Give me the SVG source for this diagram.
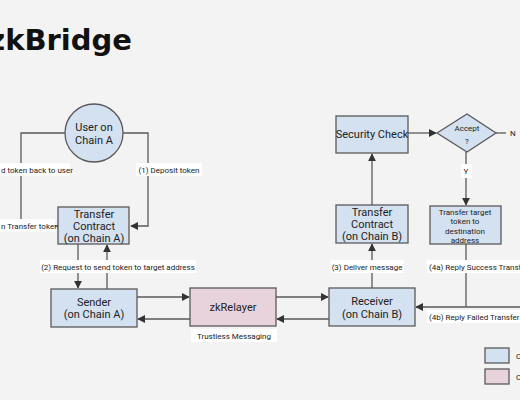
<svg xmlns="http://www.w3.org/2000/svg" width="520" height="400" viewBox="0 0 520 400">
<style>
.bl{fill:#d4e1f1;stroke:#595959;stroke-width:1.3}
.pk{fill:#e8d3dd;stroke:#595959;stroke-width:1.3}
.t{font-family:Roboto,"Liberation Sans",sans-serif;font-size:11px;fill:#222;text-anchor:middle}
.s{font-family:Roboto,"Liberation Sans",sans-serif;font-size:8px;fill:#222;text-anchor:middle}
.st{font-family:Roboto,"Liberation Sans",sans-serif;font-size:8px;fill:#222;text-anchor:start}
.lb{fill:#ffffff}
.ln{fill:none;stroke:#595959;stroke-width:1.3}
</style>
<defs>
<marker id="ah" viewBox="0 0 10 10" refX="9" refY="5" markerWidth="8" markerHeight="8" markerUnits="userSpaceOnUse" orient="auto">
<path d="M0,0 L10,5 L0,10 z" fill="#333"/>
</marker>
</defs>
<rect x="0" y="0" width="520" height="400" fill="#f3f3f3"/>
<text x="132" y="50" text-anchor="end" font-family="'DejaVu Sans',sans-serif" font-weight="bold" font-size="29" fill="#111">zkBridge</text>

<g id="connectors">
<path class="ln" d="M59,226 H21 V133 H65"/>
<path class="ln" d="M123,133 H148 V226 H131" marker-end="url(#ah)"/>
<path class="ln" d="M78,244 V288" marker-end="url(#ah)"/>
<path class="ln" d="M107,289 V245" marker-end="url(#ah)"/>
<path class="ln" d="M137,297 H189" marker-end="url(#ah)"/>
<path class="ln" d="M190,319 H138" marker-end="url(#ah)"/>
<path class="ln" d="M276,297 H328" marker-end="url(#ah)"/>
<path class="ln" d="M329,319 H277" marker-end="url(#ah)"/>
<path class="ln" d="M372,288 V244" marker-end="url(#ah)"/>
<path class="ln" d="M372,205 V154" marker-end="url(#ah)"/>
<path class="ln" d="M408,133 H436" marker-end="url(#ah)"/>
<path class="ln" d="M496,133 H506"/>
<path class="ln" d="M466,152 V205" marker-end="url(#ah)"/>
<path class="ln" d="M466,244 V307"/>
<path class="ln" d="M520,307 H416" marker-end="url(#ah)"/>
<rect class="lb" x="0" y="163" width="70" height="13"/>
<text class="st" x="1" y="172.5">d token back to user</text>
<rect class="lb" x="0" y="219" width="55" height="13"/>
<text class="st" x="1" y="228.5">n Transfer token</text>
<rect class="lb" x="136" y="163" width="66" height="13"/>
<text class="s" x="169" y="172.5">(1) Deposit token</text>
<rect class="lb" x="40" y="260" width="156" height="13"/>
<text class="s" x="118" y="269.5">(2) Request to send token to target address</text>
<rect class="lb" x="191" y="329" width="86" height="13"/>
<text class="s" x="234" y="338.5">Trustless Messaging</text>
<rect class="lb" x="331" y="260" width="73" height="13"/>
<text class="s" x="367" y="269.5">(3) Deliver message</text>
<rect class="lb" x="461" y="164" width="11" height="14"/>
<text class="s" x="466" y="174">Y</text>
<text class="st" x="510" y="136">N</text>
<rect class="lb" x="427" y="260" width="93" height="13"/>
<text class="st" x="429" y="269.5">(4a) Reply Success Transf</text>
<rect class="lb" x="427" y="310" width="93" height="13"/>
<text class="st" x="429" y="319.5">(4b) Reply Failed Transfer</text>
</g>

<g id="user">
<circle class="bl" cx="94" cy="133" r="29"/>
<text class="t" x="94" y="131">User on</text>
<text class="t" x="94" y="144">Chain A</text>
</g>
<g id="contractA">
<rect class="bl" x="58" y="207" width="71" height="37"/>
<text class="t" x="94" y="218">Transfer</text>
<text class="t" x="94" y="230">Contract</text>
<text class="t" x="94" y="242">(on Chain A)</text>
</g>
<g id="sender">
<rect class="bl" x="51" y="289" width="86" height="38"/>
<text class="t" x="94" y="306">Sender</text>
<text class="t" x="94" y="318">(on Chain A)</text>
</g>
<g id="zkrelayer">
<rect class="pk" x="190" y="288" width="86" height="38"/>
<text class="t" x="233" y="311">zkRelayer</text>
</g>
<g id="receiver">
<rect class="bl" x="329" y="288" width="86" height="38"/>
<text class="t" x="372" y="305">Receiver</text>
<text class="t" x="372" y="318">(on Chain B)</text>
</g>
<g id="contractB">
<rect class="bl" x="336" y="205" width="72" height="38"/>
<text class="t" x="372" y="216">Transfer</text>
<text class="t" x="372" y="228">Contract</text>
<text class="t" x="372" y="240">(on Chain B)</text>
</g>
<g id="security">
<rect class="bl" x="336" y="116" width="72" height="37"/>
<text class="t" x="372" y="138">Security Check</text>
</g>
<g id="accept">
<polygon class="bl" points="437,133 467,114 496,133 467,152"/>
<text class="s" x="467" y="131" font-size="9">Accept</text>
<text class="s" x="467" y="144" font-size="9">?</text>
</g>
<g id="transferTarget">
<rect class="bl" x="430" y="206" width="71" height="38"/>
<text class="s" x="465" y="215">Transfer target</text>
<text class="s" x="465" y="224">token to</text>
<text class="s" x="465" y="234">destination</text>
<text class="s" x="465" y="243">address</text>
</g>
<g id="legend">
<rect class="bl" x="485" y="348" width="24" height="15"/>
<rect class="pk" x="485" y="369" width="24" height="15"/>
<text class="st" x="516" y="359">C</text>
<text class="st" x="516" y="380">C</text>
</g>
</svg>
